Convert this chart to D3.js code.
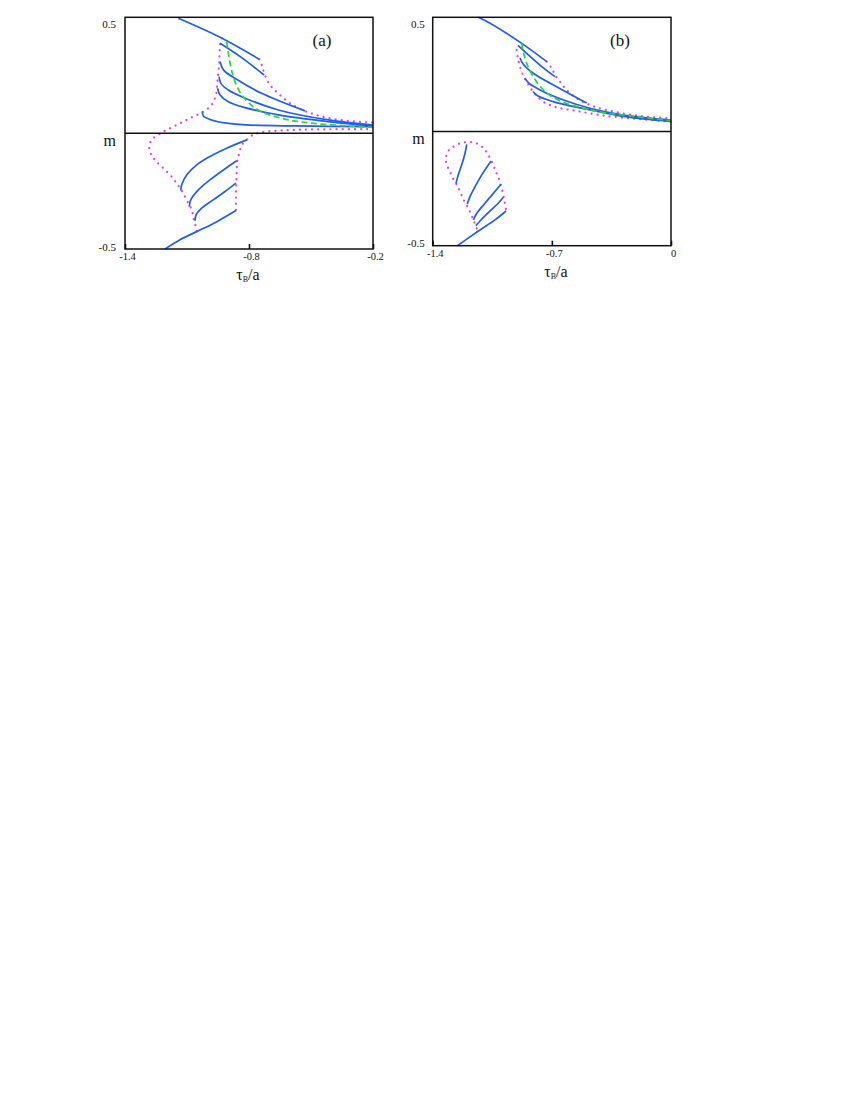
<!DOCTYPE html>
<html>
<head>
<meta charset="utf-8">
<script src="https://cdn.jsdelivr.net/npm/d3@7"></script>
<style>
  body { margin: 0; background: #fff; }
  svg { display: block; }
  text { font-family: "Liberation Serif", "DejaVu Serif", serif; fill: #111; }
</style>
</head>
<body>
<svg id="chart" width="850" height="1100"></svg>
<script>
// ---- panel (a) data: [tauB/a, m] ----
var aXTicks = [-1.4, -0.8, -0.2];
var aXTickLabels = ["-1.4", "-0.8", "-0.2"];
var yTicks = [0.5, 0, -0.5];
var yTickLabels = ["0.5", "m", "-0.5"];

var aBlue1 = [[-1.142, 0.496], [-0.940, 0.414], [-0.750, 0.319]];
var aBlue2 = [[-0.940, 0.388], [-0.834, 0.325], [-0.727, 0.251]];
var aBlue3 = [[-0.940, 0.309], [-0.924, 0.273], [-0.868, 0.237], [-0.739, 0.172], [-0.529, 0.096]];
var aBlue4 = [[-0.945, 0.244], [-0.936, 0.215], [-0.900, 0.186], [-0.819, 0.151], [-0.658, 0.100], [-0.416, 0.057], [-0.2, 0.035]];
var aBlue5 = [[-0.952, 0.194], [-0.940, 0.165], [-0.900, 0.136], [-0.819, 0.110], [-0.658, 0.079], [-0.416, 0.050], [-0.2, 0.031]];
var aBlue6 = [[-1.026, 0.093], [-1.021, 0.074], [-0.981, 0.057], [-0.908, 0.043], [-0.795, 0.035], [-0.577, 0.031], [-0.2, 0.028]];
var aLow1 = [[-1.130, -0.248], [-1.126, -0.224], [-1.101, -0.180], [-1.053, -0.137], [-0.989, -0.101], [-0.908, -0.065], [-0.811, -0.029]];
var aLow2 = [[-1.089, -0.317], [-1.082, -0.288], [-1.045, -0.245], [-0.989, -0.202], [-0.924, -0.159], [-0.860, -0.119]];
var aLow3 = [[-1.061, -0.378], [-1.056, -0.353], [-1.029, -0.324], [-0.973, -0.288], [-0.916, -0.252], [-0.863, -0.216]];
var aLow4 = [[-1.206, -0.5], [-1.134, -0.460], [-1.053, -0.425], [-0.956, -0.382], [-0.863, -0.334]];
var aGreen = [[-0.908, 0.395], [-0.900, 0.345], [-0.876, 0.244], [-0.835, 0.165], [-0.755, 0.100], [-0.642, 0.064], [-0.497, 0.043], [-0.2, 0.025]];
var aDot1 = [[-0.932, 0.410], [-0.940, 0.381], [-0.945, 0.294], [-0.953, 0.222], [-0.960, 0.165], [-0.981, 0.122],
             [-1.021, 0.093], [-1.086, 0.064], [-1.150, 0.035], [-1.215, 0.006], [-1.263, -0.022], [-1.282, -0.051],
             [-1.276, -0.087], [-1.255, -0.116], [-1.222, -0.145], [-1.182, -0.180], [-1.150, -0.216], [-1.126, -0.248],
             [-1.102, -0.288], [-1.077, -0.331], [-1.066, -0.375], [-1.056, -0.410], [-1.050, -0.433]];
var aDot2 = [[-0.750, 0.319], [-0.737, 0.290], [-0.723, 0.251], [-0.698, 0.208], [-0.660, 0.173], [-0.602, 0.129],
             [-0.505, 0.087], [-0.376, 0.059], [-0.2, 0.045]];
var aDot3 = [[-0.863, -0.331], [-0.863, -0.259], [-0.860, -0.188], [-0.857, -0.123], [-0.847, -0.087], [-0.835, -0.051],
             [-0.811, -0.029], [-0.786, -0.010], [-0.747, 0.002], [-0.587, 0.014], [-0.2, 0.017]];

// ---- panel (b) data ----
var bXTicks = [-1.4, -0.7, 0];
var bXTickLabels = ["-1.4", "-0.7", "0"];

var bBlue1 = [[-1.132, 0.500], [-1.063, 0.474], [-0.877, 0.386], [-0.730, 0.306]];
var bBlue2 = [[-0.899, 0.377], [-0.770, 0.291], [-0.681, 0.240]];
var bBlue3 = [[-0.887, 0.322], [-0.869, 0.296], [-0.809, 0.255], [-0.672, 0.196], [-0.496, 0.125]];
var bBlue4 = [[-0.858, 0.234], [-0.838, 0.214], [-0.764, 0.180], [-0.623, 0.136], [-0.476, 0.102], [-0.280, 0.072], [0, 0.050]];
var bBlue5 = [[-0.811, 0.175], [-0.781, 0.155], [-0.693, 0.131], [-0.505, 0.099], [-0.280, 0.066], [0, 0.044]];
var bLow1 = [[-1.263, -0.227], [-1.250, -0.190], [-1.230, -0.147], [-1.210, -0.095], [-1.200, -0.056]];
var bLow2 = [[-1.197, -0.319], [-1.181, -0.285], [-1.151, -0.242], [-1.112, -0.190], [-1.057, -0.129]];
var bLow3 = [[-1.161, -0.387], [-1.141, -0.358], [-1.093, -0.314], [-1.044, -0.271], [-0.999, -0.231]];
var bLow4 = [[-1.146, -0.412], [-1.122, -0.392], [-1.063, -0.348], [-1.015, -0.314], [-0.985, -0.288]];
var bLow5 = [[-1.255, -0.5], [-1.200, -0.471], [-1.122, -0.431], [-1.034, -0.387], [-0.969, -0.348]];
var bGreen = [[-0.877, 0.386], [-0.868, 0.349], [-0.848, 0.299], [-0.809, 0.240], [-0.750, 0.182], [-0.672, 0.141], [-0.476, 0.094], [-0.280, 0.072], [0, 0.048]];
var bDot1 = [[-0.907, 0.357], [-0.897, 0.313], [-0.877, 0.262], [-0.848, 0.218], [-0.809, 0.174], [-0.750, 0.130],
             [-0.672, 0.106], [-0.554, 0.090], [-0.378, 0.068], [0, 0.043]];
var bDot2 = [[-0.730, 0.306], [-0.701, 0.277], [-0.681, 0.247], [-0.652, 0.218], [-0.613, 0.182], [-0.554, 0.145],
             [-0.476, 0.116], [-0.378, 0.094], [-0.182, 0.068], [0, 0.058]];
var bDot3 = [[-1.141, -0.424], [-1.161, -0.387], [-1.185, -0.344], [-1.220, -0.296], [-1.250, -0.246], [-1.263, -0.227],
             [-1.283, -0.202], [-1.298, -0.176], [-1.318, -0.144], [-1.322, -0.115], [-1.308, -0.085], [-1.279, -0.067],
             [-1.240, -0.052], [-1.200, -0.047], [-1.161, -0.047], [-1.126, -0.059], [-1.096, -0.077], [-1.073, -0.103],
             [-1.053, -0.132], [-1.024, -0.183], [-1.009, -0.212], [-0.989, -0.264], [-0.976, -0.314], [-0.969, -0.344]];

var svg = d3.select("#chart");
var serif = "'Liberation Serif', 'DejaVu Serif', serif";

function drawPanel(p) {
    var x = d3.scaleLinear().domain([p.xTicks[0], p.xTicks[2]]).range([p.left, p.right]);
    var y = d3.scaleLinear().domain([-0.5, 0.5]).range([p.bottom, p.top]);
    var g = svg.append("g");

    var line = d3.line()
        .x(function (d) { return x(d[0]); })
        .y(function (d) { return y(d[1]); })
        .curve(d3.curveCatmullRom.alpha(0.5));

    // magenta dotted boundaries
    g.selectAll(".dot").data(p.dots).enter().append("path")
        .attr("d", line)
        .style("fill", "none")
        .style("stroke", "#ea3cea")
        .style("stroke-width", 2.2)
        .style("stroke-linecap", "round")
        .style("stroke-dasharray", "0.1 6");

    // blue curves
    g.selectAll(".blue").data(p.blue).enter().append("path")
        .attr("d", line)
        .style("fill", "none")
        .style("stroke", "#1e5ef0")
        .style("stroke-width", 1.7);

    // green dashed
    g.append("path")
        .attr("d", line(p.green))
        .style("fill", "none")
        .style("stroke", "#22dd22")
        .style("stroke-width", 1.7)
        .style("stroke-dasharray", "6 3.5");

    // frame and zero line
    g.append("rect")
        .attr("x", p.left).attr("y", p.top)
        .attr("width", p.right - p.left).attr("height", p.bottom - p.top)
        .style("fill", "none").style("stroke", "#111").style("stroke-width", 1.5);
    g.append("line")
        .attr("x1", p.left).attr("x2", p.right)
        .attr("y1", y(0)).attr("y2", y(0))
        .style("stroke", "#111").style("stroke-width", 1.5);

    // x axis
    var xAxis = g.append("g")
        .attr("transform", "translate(0," + p.bottom + ")")
        .call(d3.axisBottom(x).tickValues(p.xTicks).tickSize(-5).tickPadding(4)
            .tickFormat(function (d, i) { return p.xTickLabels[i]; }));
    xAxis.select(".domain").remove();
    xAxis.selectAll(".tick line").style("stroke", "#111").style("stroke-width", 1.6);
    xAxis.selectAll(".tick text")
        .attr("dx", 2)
        .style("font-family", serif)
        .style("font-size", "10.5px").style("fill", "#111");

    // y axis
    var yAxis = g.append("g")
        .attr("transform", "translate(" + p.left + ",0)")
        .call(d3.axisLeft(y).tickValues(yTicks).tickSize(0).tickPadding(p.yPad)
            .tickFormat(function (d, i) { return yTickLabels[i]; }));
    yAxis.select(".domain").remove();
    yAxis.selectAll(".tick text")
        .style("font-family", serif)
        .style("font-size", function (d) { return d === 0 ? "16px" : "11px"; })
        .style("fill", "#111")
        .attr("dy", function (d) { return d === 0.5 ? "0.9em" : (d === 0 ? "0.75em" : "0.1em"); });

    // axis title
    var t = g.append("text")
        .attr("x", p.titleX).attr("y", p.bottom + 31)
        .attr("text-anchor", "middle")
        .style("font-family", serif)
        .style("font-size", "16px");
    t.append("tspan").text("τ");
    t.append("tspan").attr("dy", 2).style("font-size", "8px").text("B");
    t.append("tspan").attr("dy", -2).text("/a");

    g.append("text")
        .attr("x", p.labelX).attr("y", 46)
        .attr("text-anchor", "middle")
        .style("font-family", serif)
        .style("font-size", "17px")
        .text(p.label);
}

drawPanel({
    left: 125, right: 373, top: 17.3, bottom: 249,
    xTicks: aXTicks, xTickLabels: aXTickLabels, yPad: 9,
    blue: [aBlue1, aBlue2, aBlue3, aBlue4, aBlue5, aBlue6, aLow1, aLow2, aLow3, aLow4],
    green: aGreen,
    dots: [aDot1, aDot2, aDot3],
    titleX: 248, labelX: 322, label: "(a)"
});

drawPanel({
    left: 432.7, right: 671, top: 17.3, bottom: 245.7,
    xTicks: bXTicks, xTickLabels: bXTickLabels, yPad: 8,
    blue: [bBlue1, bBlue2, bBlue3, bBlue4, bBlue5, bLow1, bLow2, bLow3, bLow4, bLow5],
    green: bGreen,
    dots: [bDot1, bDot2, bDot3],
    titleX: 556, labelX: 620, label: "(b)"
});
</script>
</body>
</html>
